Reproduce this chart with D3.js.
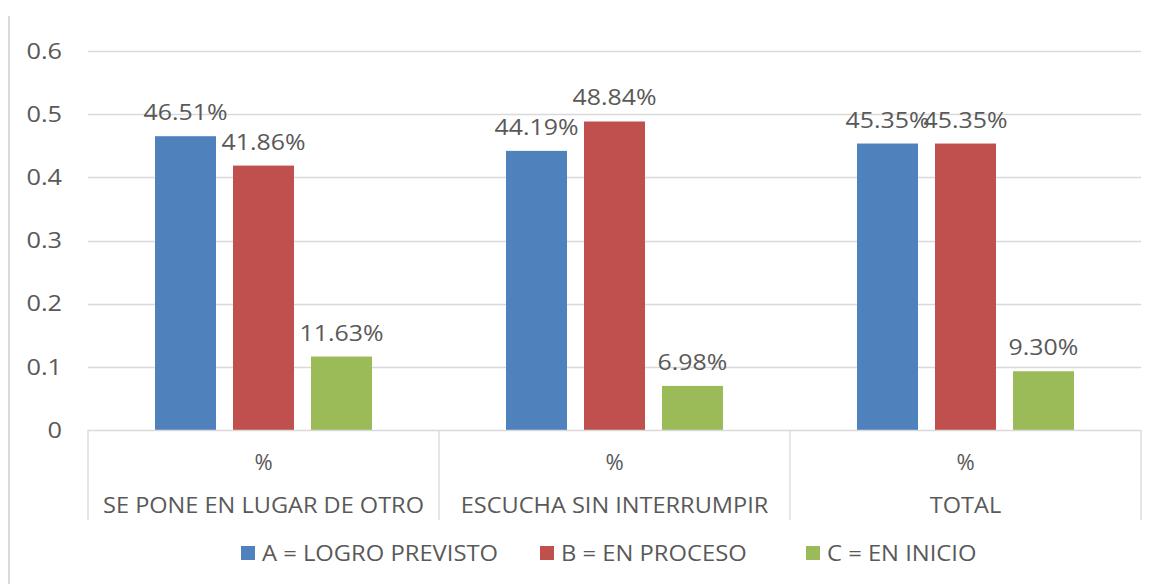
<!DOCTYPE html>
<html>
<head>
<meta charset="utf-8">
<script src="https://cdn.jsdelivr.net/npm/d3@7"></script>
<style>
  body { margin: 0; background: #fff; }
  text { font-family: "Open Sans", "Liberation Sans", sans-serif; fill: #595959; font-size: 22px; }
</style>
</head>
<body>
<div id="chart"></div>
<script>
// Data
const categories = ["SE PONE EN LUGAR DE OTRO", "ESCUCHA SIN INTERRUMPIR", "TOTAL"];
const seriesNames = ["A = LOGRO PREVISTO", "B = EN PROCESO", "C = EN INICIO"];
const valuesA = [0.4651, 0.4419, 0.4535];
const valuesB = [0.4186, 0.4884, 0.4535];
const valuesC = [0.1163, 0.0698, 0.0930];
const yTicks = [0, 0.1, 0.2, 0.3, 0.4, 0.5, 0.6];

const colors = ["#4f81bd", "#c0504d", "#9bbb59"];
const series = [valuesA, valuesB, valuesC];

const W = 1160, H = 584;
const plot = { left: 88, right: 1141, top: 51, bottom: 430 };

const svg = d3.select("#chart").append("svg")
    .attr("width", W).attr("height", H);

// the source text looks horizontally stretched, widen glyphs a bit
function stretch(sel, k) {
    sel.each(function () {
        const w = this.getComputedTextLength();
        d3.select(this).attr("textLength", w * k).attr("lengthAdjust", "spacingAndGlyphs");
    });
}

// left border of chart area
svg.append("line")
    .attr("x1", 9).attr("x2", 9).attr("y1", 16).attr("y2", H)
    .attr("stroke", "#d9d9d9").attr("stroke-width", 2);

const y = d3.scaleLinear().domain([0, 0.6]).range([plot.bottom, plot.top]);
const x0 = d3.scaleBand().domain(categories).range([plot.left, plot.right]);
const x1 = d3.scaleBand().domain(d3.range(seriesNames.length))
    .range([0, x0.bandwidth()]).paddingInner(0.218).paddingOuter(0.859);

// gridlines
svg.append("g").selectAll("line")
    .data(yTicks.filter(t => t > 0))
    .join("line")
    .attr("x1", plot.left).attr("x2", plot.right)
    .attr("y1", d => Math.round(y(d)) + 0.5).attr("y2", d => Math.round(y(d)) + 0.5)
    .attr("stroke", "#d9d9d9").attr("stroke-width", 1.3);

// y tick labels
svg.append("g").selectAll("text")
    .data(yTicks)
    .join("text")
    .attr("x", 62).attr("y", d => y(d))
    .attr("dy", "0.35em")
    .attr("text-anchor", "end")
    .text(d => d === 0 ? "0" : d3.format(".1f")(d))
    .call(stretch, 1.15);

// bars
const groups = svg.append("g").selectAll("g")
    .data(categories)
    .join("g")
    .attr("transform", d => `translate(${x0(d)},0)`);

groups.selectAll("rect")
    .data((d, i) => series.map((s, k) => ({ k, v: s[i] })))
    .join("rect")
    .attr("x", d => x1(d.k))
    .attr("y", d => y(d.v))
    .attr("width", x1.bandwidth())
    .attr("height", d => plot.bottom - y(d.v))
    .attr("fill", d => colors[d.k]);

groups.selectAll("text.lbl")
    .data((d, i) => series.map((s, k) => ({ k, v: s[i] })))
    .join("text")
    .attr("class", "lbl")
    .attr("x", d => x1(d.k) + x1.bandwidth() / 2)
    .attr("y", d => y(d.v) - 16)
    .attr("text-anchor", "middle")
    .text(d => (d.v * 100).toFixed(2) + "%")
    .call(stretch, 1.13);

// baseline and category separators
svg.append("line")
    .attr("x1", plot.left).attr("x2", plot.right)
    .attr("y1", plot.bottom + 0.5).attr("y2", plot.bottom + 0.5)
    .attr("stroke", "#d9d9d9").attr("stroke-width", 1.3);

const seps = categories.map(c => x0(c)).concat([plot.right]);
svg.append("g").selectAll("line")
    .data(seps)
    .join("line")
    .attr("x1", d => d).attr("x2", d => d)
    .attr("y1", plot.bottom).attr("y2", 520)
    .attr("stroke", "#d9d9d9").attr("stroke-width", 1.3);

// two-level axis labels
svg.append("g").selectAll("text")
    .data(categories)
    .join("text")
    .attr("x", d => x0(d) + x0.bandwidth() / 2)
    .attr("y", 462).attr("dy", "0.35em")
    .attr("text-anchor", "middle")
    .text("%");

svg.append("g").selectAll("text")
    .data(categories)
    .join("text")
    .attr("x", d => x0(d) + x0.bandwidth() / 2)
    .attr("y", 505).attr("dy", "0.35em")
    .attr("text-anchor", "middle")
    .text(d => d)
    .call(stretch, 1.07);

// legend
const legendX = [241, 540, 806];
const legend = svg.append("g").selectAll("g")
    .data(seriesNames)
    .join("g")
    .attr("transform", (d, i) => `translate(${legendX[i]},553)`);

legend.append("rect")
    .attr("x", 0).attr("y", -7).attr("width", 14).attr("height", 14)
    .attr("fill", (d, i) => colors[i]);

legend.append("text")
    .attr("x", 21).attr("y", 0).attr("dy", "0.35em")
    .text(d => d)
    .call(stretch, 1.08);
</script>
</body>
</html>
